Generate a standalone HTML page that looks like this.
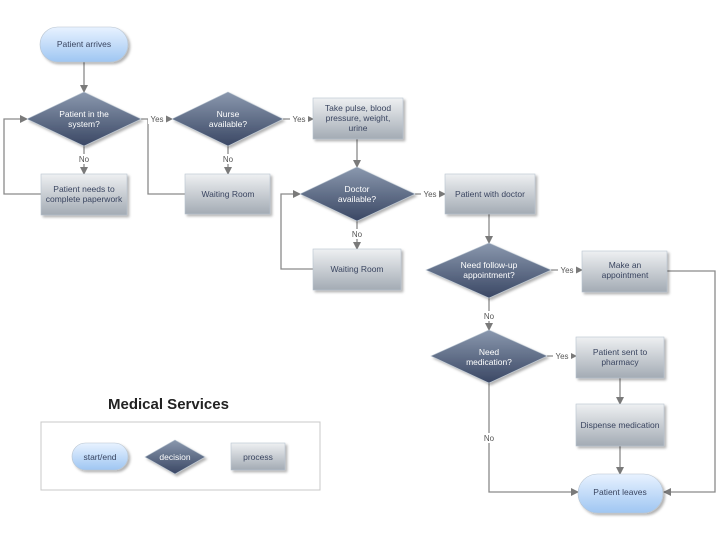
<!DOCTYPE html>
<html><head><meta charset="utf-8"><style>body{margin:0;background:#fff}svg{display:block}</style></head><body>
<svg width="720" height="540" viewBox="0 0 720 540" xmlns="http://www.w3.org/2000/svg" font-family="Liberation Sans, sans-serif">
<defs>
<linearGradient id="gp" x1="0" y1="0" x2="0" y2="1"><stop offset="0" stop-color="#e8f2ff"/><stop offset="1" stop-color="#9fc6f2"/></linearGradient>
<linearGradient id="gd" x1="0" y1="0" x2="0" y2="1"><stop offset="0" stop-color="#8a98ae"/><stop offset="1" stop-color="#3a4764"/></linearGradient>
<linearGradient id="gb" x1="0" y1="0" x2="0" y2="1"><stop offset="0" stop-color="#eef0f2"/><stop offset="1" stop-color="#a3abb4"/></linearGradient>
<marker id="ar" markerWidth="8" markerHeight="8" refX="7" refY="4" orient="auto" markerUnits="userSpaceOnUse"><path d="M0,0 L8,4 L0,8 z" fill="#7a7a7a"/></marker>
<filter id="sh" x="-10%" y="-10%" width="130%" height="140%"><feDropShadow dx="2" dy="2" stdDeviation="1.2" flood-color="#000" flood-opacity="0.3"/></filter>
</defs>
<g stroke="#8a8a8a" stroke-width="1.3" fill="none">
<line x1="84" y1="62" x2="84" y2="92" marker-end="url(#ar)"/>
<line x1="84" y1="146" x2="84" y2="174" marker-end="url(#ar)"/>
<polyline points="41,194 4,194 4,119 27,119" marker-end="url(#ar)"/>
<line x1="141" y1="119" x2="172" y2="119" marker-end="url(#ar)"/>
<polyline points="185,194 148,194 148,119"/>
<line x1="228" y1="146" x2="228" y2="174" marker-end="url(#ar)"/>
<line x1="283" y1="119" x2="313" y2="119" marker-end="url(#ar)"/>
<line x1="357" y1="139" x2="357" y2="167" marker-end="url(#ar)"/>
<line x1="415" y1="194" x2="445" y2="194" marker-end="url(#ar)"/>
<line x1="357" y1="221" x2="357" y2="249" marker-end="url(#ar)"/>
<polyline points="313,269 281,269 281,194 300,194" marker-end="url(#ar)"/>
<line x1="489" y1="214" x2="489" y2="243" marker-end="url(#ar)"/>
<line x1="551" y1="270" x2="582" y2="270" marker-end="url(#ar)"/>
<polyline points="667,271 715,271 715,492 664,492" marker-end="url(#ar)"/>
<line x1="489" y1="298" x2="489" y2="330" marker-end="url(#ar)"/>
<line x1="547" y1="356" x2="576" y2="356" marker-end="url(#ar)"/>
<line x1="620" y1="378" x2="620" y2="404" marker-end="url(#ar)"/>
<line x1="620" y1="446" x2="620" y2="474" marker-end="url(#ar)"/>
<polyline points="489,383 489,492 578,492" marker-end="url(#ar)"/>
</g>
<g font-size="8" fill="#555" text-anchor="middle">
<rect x="76" y="154" width="16" height="10" fill="#fff"/><text x="84" y="162">No</text>
<rect x="220" y="154" width="16" height="10" fill="#fff"/><text x="228" y="162">No</text>
<rect x="349" y="229" width="16" height="10" fill="#fff"/><text x="357" y="237">No</text>
<rect x="481" y="311" width="16" height="10" fill="#fff"/><text x="489" y="319">No</text>
<rect x="481" y="433" width="16" height="10" fill="#fff"/><text x="489" y="441">No</text>
<rect x="148" y="114" width="18" height="10" fill="#fff"/><text x="157" y="122">Yes</text>
<rect x="290" y="114" width="18" height="10" fill="#fff"/><text x="299" y="122">Yes</text>
<rect x="421" y="189" width="18" height="10" fill="#fff"/><text x="430" y="197">Yes</text>
<rect x="558" y="265" width="18" height="10" fill="#fff"/><text x="567" y="273">Yes</text>
<rect x="553" y="351" width="18" height="10" fill="#fff"/><text x="562" y="359">Yes</text>
</g>
<g filter="url(#sh)" stroke="#b8c4d0" stroke-width="0.6">
<rect x="40" y="27" width="88" height="35" rx="17.5" fill="url(#gp)"/>
<rect x="578" y="474" width="85" height="39" rx="19.5" fill="url(#gp)"/>
<polygon points="84,92 141,119 84,146 27,119" fill="url(#gd)"/>
<polygon points="228,92 283,119 228,146 172,119" fill="url(#gd)"/>
<polygon points="357,167 415,194 357,221 300,194" fill="url(#gd)"/>
<polygon points="489,243 551,270 489,298 426,270" fill="url(#gd)"/>
<polygon points="489,330 547,356 489,383 431,356" fill="url(#gd)"/>
<rect x="41" y="174" width="86" height="41" fill="url(#gb)"/>
<rect x="185" y="174" width="85" height="40" fill="url(#gb)"/>
<rect x="313" y="98" width="90" height="41" fill="url(#gb)"/>
<rect x="445" y="174" width="90" height="40" fill="url(#gb)"/>
<rect x="313" y="249" width="88" height="41" fill="url(#gb)"/>
<rect x="582" y="251" width="85" height="41" fill="url(#gb)"/>
<rect x="576" y="337" width="88" height="41" fill="url(#gb)"/>
<rect x="576" y="404" width="88" height="42" fill="url(#gb)"/>
</g>
<g font-size="8.5" text-anchor="middle" fill="#3a4560">
<text x="84" y="47">Patient arrives</text>
<text x="620" y="495">Patient leaves</text>
<text x="84" y="192">Patient needs to</text><text x="84" y="202">complete paperwork</text>
<text x="228" y="197">Waiting Room</text>
<text x="358" y="111">Take pulse, blood</text><text x="358" y="121">pressure, weight,</text><text x="358" y="131">urine</text>
<text x="490" y="197">Patient with doctor</text>
<text x="357" y="272">Waiting Room</text>
<text x="625" y="268">Make an</text><text x="625" y="278">appointment</text>
<text x="620" y="355">Patient sent to</text><text x="620" y="365">pharmacy</text>
<text x="620" y="428">Dispense medication</text>
</g>
<g font-size="8.5" text-anchor="middle" fill="#fff">
<text x="84" y="117">Patient in the</text><text x="84" y="127">system?</text>
<text x="228" y="117">Nurse</text><text x="228" y="127">available?</text>
<text x="357" y="192">Doctor</text><text x="357" y="202">available?</text>
<text x="489" y="268">Need follow-up</text><text x="489" y="278">appointment?</text>
<text x="489" y="355">Need</text><text x="489" y="365">medication?</text>
</g>
<text x="108" y="409" font-size="15" font-weight="bold" fill="#222">Medical Services</text>
<rect x="41" y="422" width="279" height="68" fill="#fff" stroke="#c8c8c8"/>
<g filter="url(#sh)" stroke="#b8c4d0" stroke-width="0.6">
<rect x="72" y="443" width="56" height="27" rx="13.5" fill="url(#gp)"/>
<polygon points="175,440 205,457 175,474 145,457" fill="url(#gd)"/>
<rect x="231" y="443" width="54" height="27" fill="url(#gb)"/>
</g>
<g font-size="8.5" text-anchor="middle">
<text x="100" y="460" fill="#3a4560">start/end</text>
<text x="175" y="460" fill="#fff">decision</text>
<text x="258" y="460" fill="#3a4560">process</text>
</g>
</svg>
</body></html>
